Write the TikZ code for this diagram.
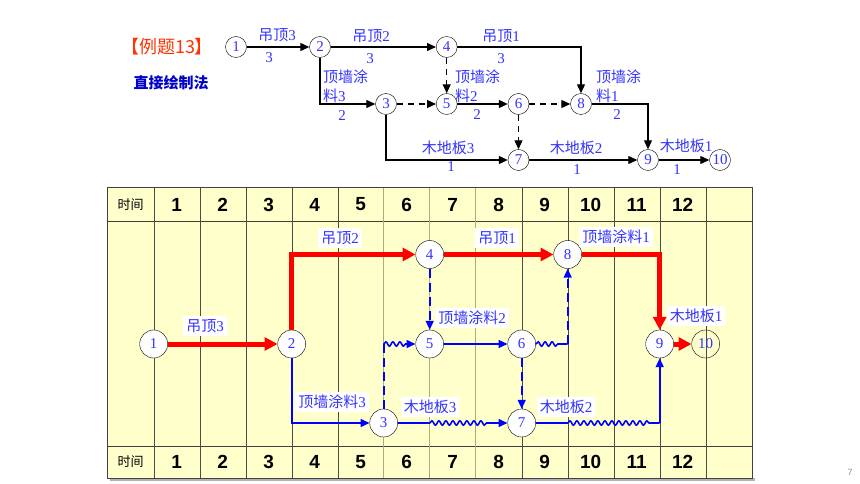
\documentclass[tikz,border=0pt]{standalone}
\usepackage{fontspec}
\setmainfont{Liberation Serif}
\setsansfont{Liberation Sans}
\newfontfamily\cjk{Noto Sans CJK SC}
\usetikzlibrary{arrows.meta,decorations.pathmorphing}
\definecolor{lblue}{RGB}{51,51,255}
\definecolor{paper}{RGB}{255,255,204}
\definecolor{gridolive}{RGB}{176,170,128}
\definecolor{hotred}{RGB}{255,51,0}
\newcommand{\zh}[1]{{\cjk #1}}
\tikzset{
  ev/.style={circle, draw=black, fill=white, text=lblue, inner sep=0pt, minimum size=21pt, font=\fontsize{15}{15}\selectfont},
  evb/.style={ev, minimum size=28pt},
  arr/.style={draw=black, line width=1.2pt, -{Triangle[length=9pt,width=8pt]}},
  dsh/.style={arr, dash pattern=on 6pt off 5pt},
  crit/.style={draw=red, line width=5pt, -{Triangle[length=13pt,width=13pt]}},
  act/.style={draw=blue, line width=1.6pt, -{Triangle[length=9pt,width=8pt]}},
  dum/.style={act, dash pattern=on 9pt off 5pt},
  fl/.style={act, decorate, decoration={snake, amplitude=2.2pt, segment length=7pt, post length=8pt}},
  lab/.style={text=lblue, font=\fontsize{15}{19}\selectfont, inner sep=1pt},
  tag/.style={lab, fill=white, inner sep=3pt},
  num/.style={font=\sffamily\bfseries\fontsize{19}{19}\selectfont},
}
\begin{document}
\begin{tikzpicture}[x=1pt,y=-1pt]
\useasboundingbox (0,0) rectangle (860,484);
% title
\node[text=hotred, font=\cjk\fontsize{18}{18}\selectfont] (ttl) at (167,47) {【例题13】};
\node[text=blue!80!black, font=\cjk\bfseries\fontsize{15}{15}\selectfont] (mth) at (171,83) {直接绘制法};

% network
\node[ev] (t1) at (236,47) {1};
\node[ev] (t2) at (320,47) {2};
\node[ev] (t4) at (446.7,47) {4};
\node[ev] (t3) at (386,104) {3};
\node[ev] (t5) at (446.7,104) {5};
\node[ev] (t6) at (518.5,104) {6};
\node[ev] (t8) at (581,104) {8};
\node[ev] (t7) at (518.5,160) {7};
\node[ev] (t9) at (648,160) {9};
\node[ev] (t10) at (720,160) {10};
\draw[arr] (t1) -- (t2);
\draw[arr] (t2) -- (t4);
\draw[arr] (t4) -| (t8);
\draw[dsh] (t4) -- (t5);
\draw[arr] (t2) |- (t3);
\draw[dsh] (t3) -- (t5);
\draw[arr] (t5) -- (t6);
\draw[dsh] (t6) -- (t8);
\draw[dsh] (t6) -- (t7);
\draw[arr] (t8) -| (t9);
\draw[arr] (t3) |- (t7);
\draw[arr] (t7) -- (t9);
\draw[arr] (t9) -- (t10);
\node[lab] (l12) at (277,35) {\zh{吊顶}3};
\node[lab] (d12) at (269,58) {3};
\node[lab] (l24) at (371,36) {\zh{吊顶}2};
\node[lab] (d24) at (370,59) {3};
\node[lab] (l48) at (501,36) {\zh{吊顶}1};
\node[lab] (d48) at (501,59) {3};
\node[lab, anchor=west, align=left] (l23) at (322,86.5) {\zh{顶墙涂}\\\zh{料}3};
\node[lab] (d23) at (342,116) {2};
\node[lab, anchor=west, align=left] (l56) at (454,86.5) {\zh{顶墙涂}\\\zh{料}2};
\node[lab] (d56) at (477,115) {2};
\node[lab, anchor=west, align=left] (l89) at (595,86.5) {\zh{顶墙涂}\\\zh{料}1};
\node[lab] (d89) at (617,115) {2};
\node[lab] (l37) at (448,148) {\zh{木地板}3};
\node[lab] (d37) at (451,167) {1};
\node[lab] (l79) at (576,148) {\zh{木地板}2};
\node[lab] (d79) at (577,170) {1};
\node[lab] (l910) at (686,146) {\zh{木地板}1};
\node[lab] (d910) at (677,170) {1};

% time chart
\fill[black!30] (110,478) rectangle (755,481);
\filldraw[fill=paper, draw=black!75, line width=1pt] (107.3,188) rectangle (752.3,478);
\draw[black!75] (107.3,220.7) -- (752.3,220.7) (107.3,446) -- (752.3,446);
\foreach \k in {0,1,2,3,4,8,9,10,11,12}
  \draw[black!70] ({153.7+46*\k},188) -- ({153.7+46*\k},478);
\foreach \k in {5,6,7}
  \draw[gridolive, line width=1pt] ({153.7+46*\k},188) -- ({153.7+46*\k},478);
\node[font=\cjk\fontsize{13}{13}\selectfont] (ht) at (130.5,204.5) {时间};
\node[font=\cjk\fontsize{13}{13}\selectfont] (ft) at (130.5,462) {时间};
\foreach \k in {1,...,12}{
  \node[num] (h\k) at ({130.7+46*\k},204.5) {\k};
  \node[num] (f\k) at ({130.7+46*\k},462) {\k};
}
\node[evb] (c1) at (153.7,344) {1};
\node[evb] (c2) at (291.7,344) {2};
\node[evb] (c3) at (383.7,423) {3};
\node[evb] (c4) at (429.7,254.5) {4};
\node[evb] (c5) at (429.7,344) {5};
\node[evb] (c6) at (521.7,344) {6};
\node[evb] (c7) at (521.7,423) {7};
\node[evb] (c8) at (567.7,254.5) {8};
\node[evb] (c9) at (659.7,344) {9};
\node[evb, fill=none] (c10) at (705.7,344) {10};
\draw[crit] (c1) -- (c2);
\draw[crit] (c2) |- (c4);
\draw[crit] (c4) -- (c8);
\draw[crit] (c8) -| (c9);
\draw[crit] (c9) -- (c10);
\draw[act] (c2) |- (c3);
\draw[dum] (c4) -- (c5);
\draw[act] (c5) -- (c6);
\draw[dum] (c6) -- (c7);
\draw[dum,-] (c3) -- (c3 |- c5);
\draw[fl] (c3 |- c5) -- (c5);
\draw[fl,-] (c6) -- (c8 |- c6);
\draw[dum] (c8 |- c6) -- (c8);
\draw[act,-] (c3) -- (c5 |- c3);
\draw[fl, decoration={post length=20pt}] (c5 |- c3) -- (c7);
\draw[act,-] (c7) -- (c8 |- c7);
\draw[fl,-] (c8 |- c7) -- (c9 |- c7);
\draw[act] (c9 |- c7) -- (c9);
\node[tag] (k12) at (205,326) {\zh{吊顶}3};
\node[tag] (k24) at (340,238) {\zh{吊顶}2};
\node[tag] (k48) at (497,238) {\zh{吊顶}1};
\node[tag] (k89) at (616,237) {\zh{顶墙涂料}1};
\node[tag] (k910) at (696,316) {\zh{木地板}1};
\node[tag] (k56) at (472,318) {\zh{顶墙涂料}2};
\node[tag] (k23) at (332,402) {\zh{顶墙涂料}3};
\node[tag] (k37) at (430,407) {\zh{木地板}3};
\node[tag] (k79) at (566,407) {\zh{木地板}2};

\node[text=black!45, font=\sffamily\fontsize{9}{9}\selectfont] (pg) at (850,472) {7};
\end{tikzpicture}
\end{document}
